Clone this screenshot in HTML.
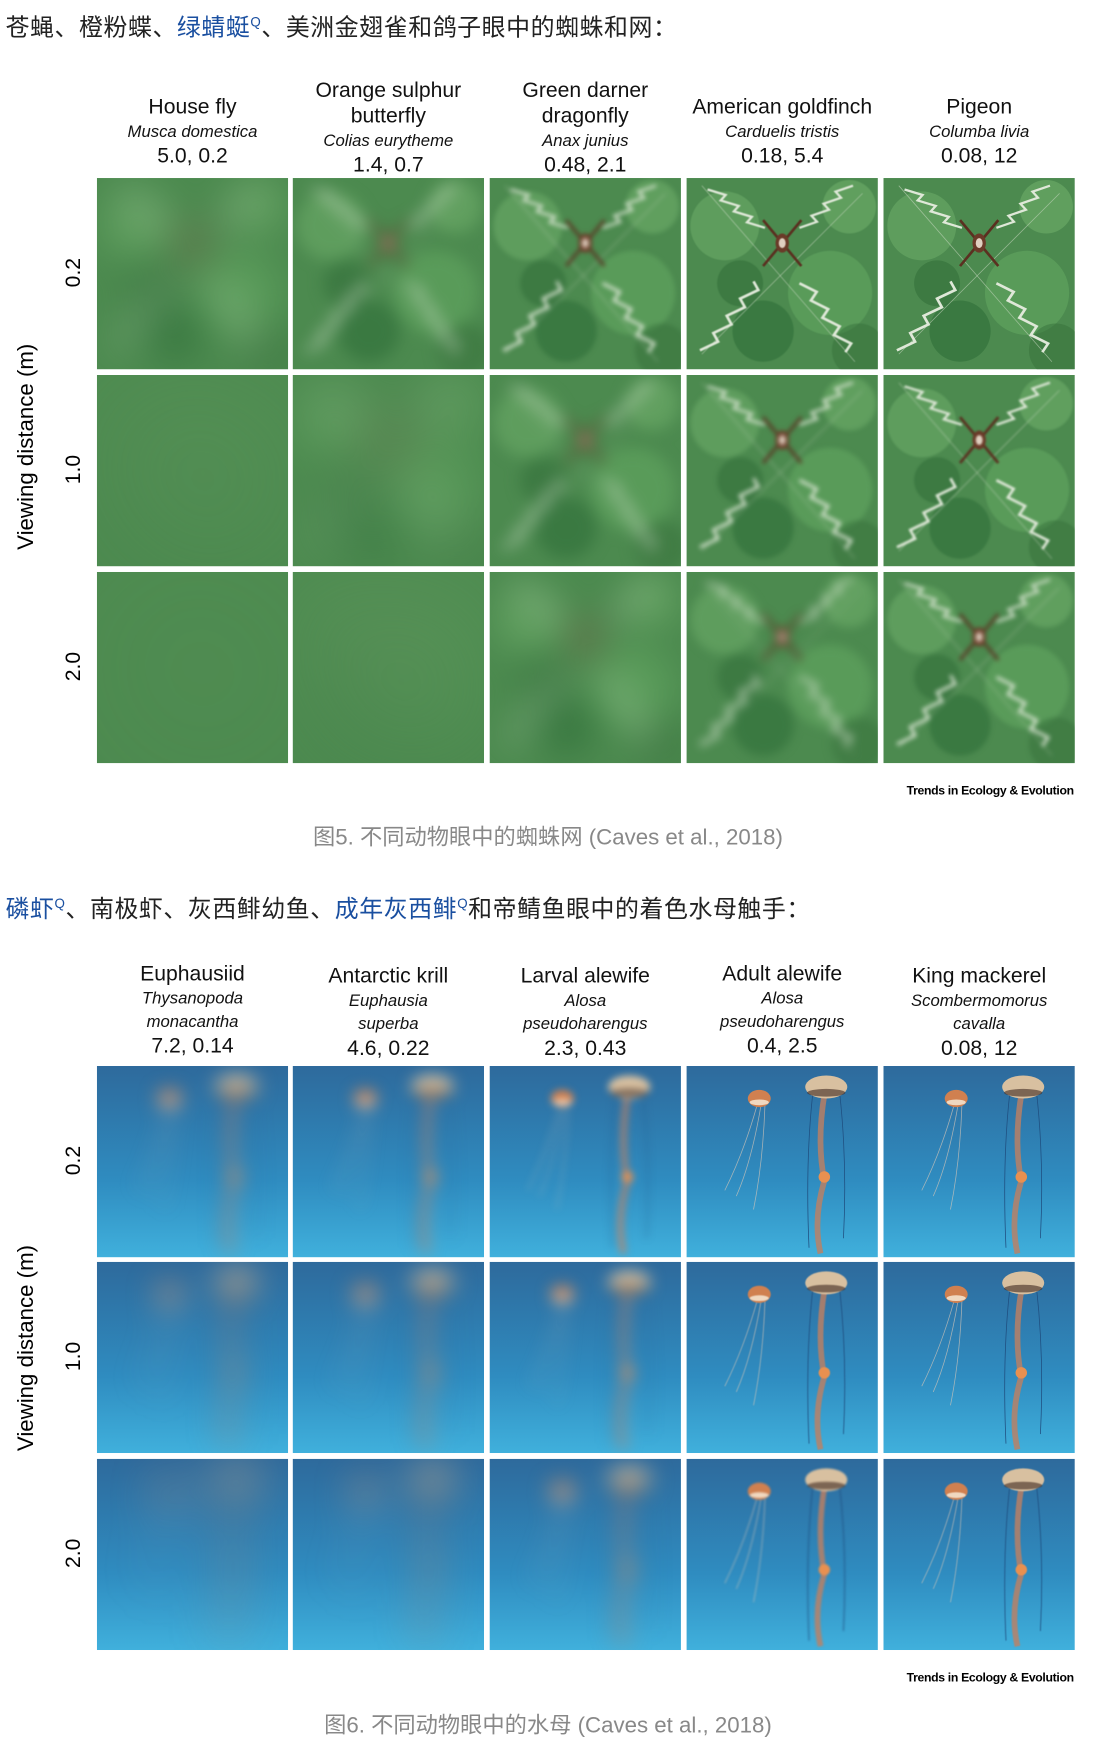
<!DOCTYPE html>
<html><head><meta charset="utf-8"><style>
html,body{margin:0;padding:0;background:#fff;}
body{width:1096px;height:1748px;overflow:hidden;position:relative;}
#wrap{position:absolute;left:0;top:0;width:985px;height:1571px;transform:scale(1.1127);transform-origin:0 0;font-family:"Liberation Sans","Noto Sans CJK SC",sans-serif;}
.abs{position:absolute;}
.h{font-size:21.5px;color:#222;white-space:nowrap;letter-spacing:0.5px;}
.h a{color:#1a4fa0;text-decoration:none;}
.col{position:absolute;width:180px;text-align:center;color:#111;line-height:23px;}
.nm{font-size:19px;}
.sp{font-size:15px;font-style:italic;line-height:21px;}
.vl{font-size:19px;}
.cell{position:absolute;width:172px;height:172px;overflow:hidden;}
.rl{position:absolute;font-size:19px;transform:rotate(-90deg);transform-origin:center;width:60px;text-align:center;}
.yl{position:absolute;font-size:20px;transform:rotate(-90deg);width:240px;text-align:center;}
.tr{position:absolute;right:20px;font-size:11px;font-weight:bold;letter-spacing:-0.3px;}
.cap{position:absolute;width:985px;text-align:center;font-size:20px;color:#888;}
</style></head><body>
<div id="wrap">
<div class="abs h" style="left:5px;top:8px">苍蝇、橙粉蝶、<a>绿蜻蜓</a><sup style="color:#1a4fa0;font-size:12px">Q</sup>、美洲金翅雀和鸽子眼中的蜘蛛和网：</div>
<div id="fig1"></div>
<div class="tr" style="top:705px">Trends in Ecology &amp; Evolution</div>
<div class="cap" style="top:736px">图5. 不同动物眼中的蜘蛛网 (Caves et al., 2018)</div>
<div class="abs h" style="left:5px;top:800px"><a>磷虾</a><sup style="color:#1a4fa0;font-size:12px">Q</sup>、南极虾、灰西鲱幼鱼、<a>成年灰西鲱</a><sup style="color:#1a4fa0;font-size:12px">Q</sup>和帝鲭鱼眼中的着色水母触手：</div>
<div id="fig2"></div>
<div class="tr" style="top:1502px">Trends in Ecology &amp; Evolution</div>
<div class="cap" style="top:1534px">图6. 不同动物眼中的水母 (Caves et al., 2018)</div>
</div>
<script>
const cellX=[87,263,440,617,794];
const rowLabels=['0.2','1.0','2.0'];
const f1Names=[['House fly'],['Orange sulphur','butterfly'],['Green darner','dragonfly'],['American goldfinch'],['Pigeon']];
const f1Species=[['Musca domestica'],['Colias eurytheme'],['Anax junius'],['Carduelis tristis'],['Columba livia']];
const f1Vals=['5.0, 0.2','1.4, 0.7','0.48, 2.1','0.18, 5.4','0.08, 12'];
const f1Blur=[[10,40,60],[4,14,30],[1.2,4,9],[0.3,1.2,2.5],[0.1,0.5,1.2]];
const f2Names=['Euphausiid','Antarctic krill','Larval alewife','Adult alewife','King mackerel'];
const f2Species=[['Thysanopoda','monacantha'],['Euphausia','superba'],['Alosa','pseudoharengus'],['Alosa','pseudoharengus'],['Scombermomorus','cavalla']];
const f2Vals=['7.2, 0.14','4.6, 0.22','2.3, 0.43','0.4, 2.5','0.08, 12'];
const f2Blur=[[5,8,12],[4,6,10],[2,4,6],[0.2,0.3,0.5],[0.1,0.2,0.3]];
const wrap=document.getElementById('wrap');
function add(html){const d=document.createElement('div');d.innerHTML=html;const e=d.firstChild;wrap.appendChild(e);return e;}
function spider(b){
 let z1='',z2='',z3='',z4='';
 for(let i=0;i<9;i++){const t=i/8;z1+=`${10+t*28+(i%2?3:-3)},${90-t*36} `;z2+=`${62+t*24+(i%2?3:-3)},${55+t*36} `;}
 for(let i=0;i<8;i++){const t=i/7;z3+=`${14+t*24+(i%2?3:-3)},${6+t*20} `;z4+=`${62+t*22+(i%2?3:-3)},${26-t*22} `;}
 return `<svg width="172" height="172" viewBox="0 0 100 100">
 <rect width="100" height="100" fill="#4c8a4f"/>
 <g style="filter:blur(${b}px)">
 <circle cx="20" cy="25" r="18" fill="#6aaa68" opacity="0.6"/><circle cx="75" cy="60" r="22" fill="#62a660" opacity="0.6"/>
 <circle cx="40" cy="80" r="16" fill="#2f6e38" opacity="0.6"/><circle cx="85" cy="15" r="14" fill="#74b46e" opacity="0.5"/>
 <circle cx="28" cy="55" r="12" fill="#2e6a35" opacity="0.5"/><circle cx="90" cy="90" r="14" fill="#356f3a" opacity="0.5"/>
 <line x1="8" y1="92" x2="92" y2="8" stroke="#c8d8c0" stroke-width="0.4" opacity="0.6"/>
 <line x1="8" y1="4" x2="88" y2="96" stroke="#c8d8c0" stroke-width="0.4" opacity="0.6"/>
 <polyline points="${z1}" fill="none" stroke="#dfe8d8" stroke-width="1.4"/>
 <polyline points="${z2}" fill="none" stroke="#dfe8d8" stroke-width="1.4"/>
 <polyline points="${z3}" fill="none" stroke="#dfe8d8" stroke-width="1.2"/>
 <polyline points="${z4}" fill="none" stroke="#dfe8d8" stroke-width="1.2"/>
 <line x1="40" y1="22" x2="60" y2="46" stroke="#5a3020" stroke-width="1.4"/>
 <line x1="60" y1="22" x2="40" y2="46" stroke="#5a3020" stroke-width="1.4"/>
 <ellipse cx="50" cy="34" rx="3.5" ry="5" fill="#6a3a28"/><ellipse cx="50" cy="34" rx="1.8" ry="2.6" fill="#e0d0c0"/></g></svg>`;
}
function jelly(b){
 return `<svg width="172" height="172" viewBox="0 0 100 100"><defs><linearGradient id="jg" x1="0" y1="0" x2="0" y2="1"><stop offset="0" stop-color="#2e6a9c"/><stop offset="0.6" stop-color="#2f8cc0"/><stop offset="1" stop-color="#40b0dc"/></linearGradient></defs>
 <rect width="100" height="100" fill="url(#jg)"/>
 <g style="filter:blur(${b}px)">
 <path d="M37 20 Q30 45 20 65 M39 20 Q34 50 26 68 M41 20 Q40 50 35 75" stroke="#d8c8b8" stroke-width="0.4" fill="none" opacity="0.7"/>
 <path d="M72 15 Q68 40 72 60 Q66 80 70 98" stroke="#c08060" stroke-width="3" fill="none" opacity="0.8"/>
 <path d="M66 14 Q62 50 64 95 M80 14 Q84 50 82 90" stroke="#1f4f80" stroke-width="0.4" fill="none"/>
 <ellipse cx="72" cy="58" rx="3" ry="3" fill="#e89050"/>
 <ellipse cx="38" cy="17" rx="6" ry="4.5" fill="#d08050"/><ellipse cx="38" cy="19" rx="5" ry="1.5" fill="#f0d8c0"/>
 <ellipse cx="73" cy="11" rx="11" ry="6" fill="#d8c0a0"/><ellipse cx="73" cy="14" rx="10" ry="2" fill="#402820" opacity="0.6"/>
 </g></svg>`;
}
function build(names,species,vals,blur,cellTop,headTop,axisY,imgFn,prefix){
 for(let c=0;c<5;c++){
  const cx=cellX[c]+86;
  let h=`<div class="col" style="left:${cx-90}px;top:${headTop[c]}px">`;
  const nm=Array.isArray(names[c])?names[c]:[names[c]];
  h+=nm.map(n=>`<div class="nm">${n}</div>`).join('');
  h+=species[c].map(s=>`<div class="sp">${s}</div>`).join('');
  h+=`<div class="vl">${vals[c]}</div></div>`;
  add(h);
  for(let r=0;r<3;r++){
   const e=add(`<div class="cell" style="left:${cellX[c]}px;top:${cellTop[r]}px">${imgFn(blur[c][r])}</div>`);
   
   
  }
 }
 for(let r=0;r<3;r++){
  const e=add(`<div class="rl" style="left:37px;top:${cellTop[r]+74}px">${rowLabels[r]}</div>`);
  
  
 }
 const y=add(`<div class="yl" style="left:-96px;top:${axisY-12}px">Viewing distance (m)</div>`);
 
 
}
build(f1Names,f1Species,f1Vals,f1Blur,[160,337,514],[85,70,70,85,85],402,spider,'spider');
build(f2Names,f2Species,f2Vals,f2Blur,[958,1134,1311],[864,866,866,864,866],1212,jelly,'jelly');
</script>
</body></html>
